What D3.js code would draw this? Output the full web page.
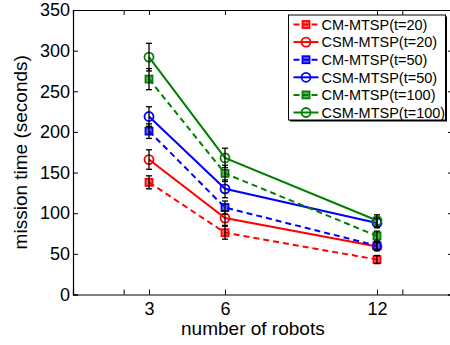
<!DOCTYPE html>
<html>
<head>
    <title>Mission time vs number of robots</title>
    <script src="https://cdnjs.cloudflare.com/ajax/libs/d3/7.8.5/d3.min.js"></script>
    <style>
        body { margin: 0; background: #fff; }
        text { font-family: "Liberation Sans", Arial, sans-serif; fill: #000; }
    </style>
</head>
<body>
    <div id="chart"></div>
    <script>
        // data
        const robots = [3, 6, 12];
        const seriesNames = ["CM-MTSP(t=20)", "CSM-MTSP(t=20)", "CM-MTSP(t=50)",
                             "CSM-MTSP(t=50)", "CM-MTSP(t=100)", "CSM-MTSP(t=100)"];
        const cm20 = [138, 76, 43];
        const csm20 = [166, 94, 59];
        const cm50 = [201, 107, 60];
        const csm50 = [219, 130, 88];
        const cm100 = [265, 149, 72];
        const csm100 = [292, 168, 91];
        const cm20Err = [8, 8, 5];
        const csm20Err = [12, 9, 5];
        const cm50Err = [9, 8, 5];
        const csm50Err = [12, 11, 6];
        const cm100Err = [13, 10, 6];
        const csm100Err = [17, 12, 7];
        const xTicks = [2, 3, 6, 12, 13];
        const xTickLabels = {3: "3", 6: "6", 12: "12"};
        const yTicks = [0, 50, 100, 150, 200, 250, 300, 350];

        const series = [
            {name: seriesNames[0], values: cm20, err: cm20Err, color: "#ff0000", dashed: true, marker: "square"},
            {name: seriesNames[1], values: csm20, err: csm20Err, color: "#ff0000", dashed: false, marker: "circle"},
            {name: seriesNames[2], values: cm50, err: cm50Err, color: "#0000ff", dashed: true, marker: "square"},
            {name: seriesNames[3], values: csm50, err: csm50Err, color: "#0000ff", dashed: false, marker: "circle"},
            {name: seriesNames[4], values: cm100, err: cm100Err, color: "#008000", dashed: true, marker: "square"},
            {name: seriesNames[5], values: csm100, err: csm100Err, color: "#008000", dashed: false, marker: "circle"}
        ];

        const W = 450, H = 345;
        const margin = {top: 10, right: -3, bottom: 50.5, left: 73};
        const width = W - margin.left - margin.right;
        const height = H - margin.top - margin.bottom;

        const svg = d3.select("#chart")
            .append("svg")
            .attr("width", W)
            .attr("height", H);

        const g = svg.append("g")
            .attr("transform", `translate(${margin.left},${margin.top})`);

        const x = d3.scaleLinear().domain([0, 15]).range([0, width]);
        const y = d3.scaleLinear().domain([0, 350]).range([height, 0]);

        // axes, ticks pointing inward on all four sides
        g.append("g")
            .attr("transform", `translate(0,${height})`)
            .call(d3.axisBottom(x).tickValues(xTicks).tickSize(-5)
                .tickFormat(d => xTickLabels[d] || "").tickPadding(8))
            .call(a => a.selectAll("text").style("font-size", "18px"));
        g.append("g")
            .call(d3.axisTop(x).tickValues(xTicks).tickSize(-5).tickFormat(""));
        g.append("g")
            .call(d3.axisLeft(y).tickValues(yTicks).tickSize(-5).tickPadding(3))
            .call(a => a.selectAll("text").style("font-size", "18px"));
        g.append("g")
            .attr("transform", `translate(${width},0)`)
            .call(d3.axisRight(y).tickValues(yTicks).tickSize(-5).tickFormat(""));
        g.selectAll(".domain").attr("stroke", "#000").attr("stroke-width", 1.2);
        g.selectAll(".tick line").attr("stroke", "#000");

        g.append("text")
            .attr("x", x(7.1))
            .attr("y", height + 40)
            .attr("text-anchor", "middle")
            .style("font-size", "19px")
            .text("number of robots");

        g.append("text")
            .attr("transform", "rotate(-90)")
            .attr("x", -height / 2)
            .attr("y", -46)
            .attr("text-anchor", "middle")
            .style("font-size", "19px")
            .text("mission time (seconds)");

        const line = d3.line()
            .x((d, i) => x(robots[i]))
            .y(d => y(d));

        function drawMarker(sel, type, color, cx, cy) {
            if (type === "square") {
                sel.append("rect")
                    .attr("x", cx - 3.5).attr("y", cy - 3.5)
                    .attr("width", 7).attr("height", 7)
                    .attr("fill", color).attr("fill-opacity", 0.6)
                    .attr("stroke", color).attr("stroke-width", 1.8);
            } else {
                sel.append("circle")
                    .attr("cx", cx).attr("cy", cy).attr("r", 4.5)
                    .attr("fill", "none")
                    .attr("stroke", color).attr("stroke-width", 1.8);
            }
        }

        series.forEach(s => {
            g.append("path")
                .datum(s.values)
                .attr("d", line)
                .attr("fill", "none")
                .attr("stroke", s.color)
                .attr("stroke-width", 2)
                .attr("stroke-dasharray", s.dashed ? "6,4" : null);
            s.values.forEach((v, i) => drawMarker(g, s.marker, s.color, x(robots[i]), y(v)));
        });

        // error bars on top
        series.forEach(s => {
            s.values.forEach((v, i) => {
                const cx = x(robots[i]);
                const y0 = y(v - s.err[i]), y1 = y(v + s.err[i]);
                const eb = g.append("g").attr("stroke", "#000").attr("stroke-width", 1.3);
                eb.append("line").attr("x1", cx).attr("x2", cx).attr("y1", y0).attr("y2", y1);
                eb.append("line").attr("x1", cx - 3).attr("x2", cx + 3).attr("y1", y0).attr("y2", y0);
                eb.append("line").attr("x1", cx - 3).attr("x2", cx + 3).attr("y1", y1).attr("y2", y1);
            });
        });

        // legend
        const legend = svg.append("g").attr("transform", "translate(288.5,15)");
        legend.append("rect")
            .attr("x", 1.5).attr("y", 1.5)
            .attr("width", 157).attr("height", 105)
            .attr("fill", "#000");
        legend.append("rect")
            .attr("width", 157).attr("height", 105)
            .attr("fill", "#fff").attr("stroke", "#000").attr("stroke-width", 1);

        series.forEach((s, i) => {
            const ly = 9.5 + i * 17.6;
            const row = legend.append("g");
            row.append("line")
                .attr("x1", 5).attr("x2", 30).attr("y1", ly).attr("y2", ly)
                .attr("stroke", s.color).attr("stroke-width", 2)
                .attr("stroke-dasharray", s.dashed ? "6,3" : null);
            drawMarker(row, s.marker, s.color, 17.5, ly);
            row.append("text")
                .attr("x", 33)
                .attr("y", ly)
                .attr("dy", "0.36em")
                .style("font-size", "14.5px")
                .text(s.name);
        });
    </script>
</body>
</html>
